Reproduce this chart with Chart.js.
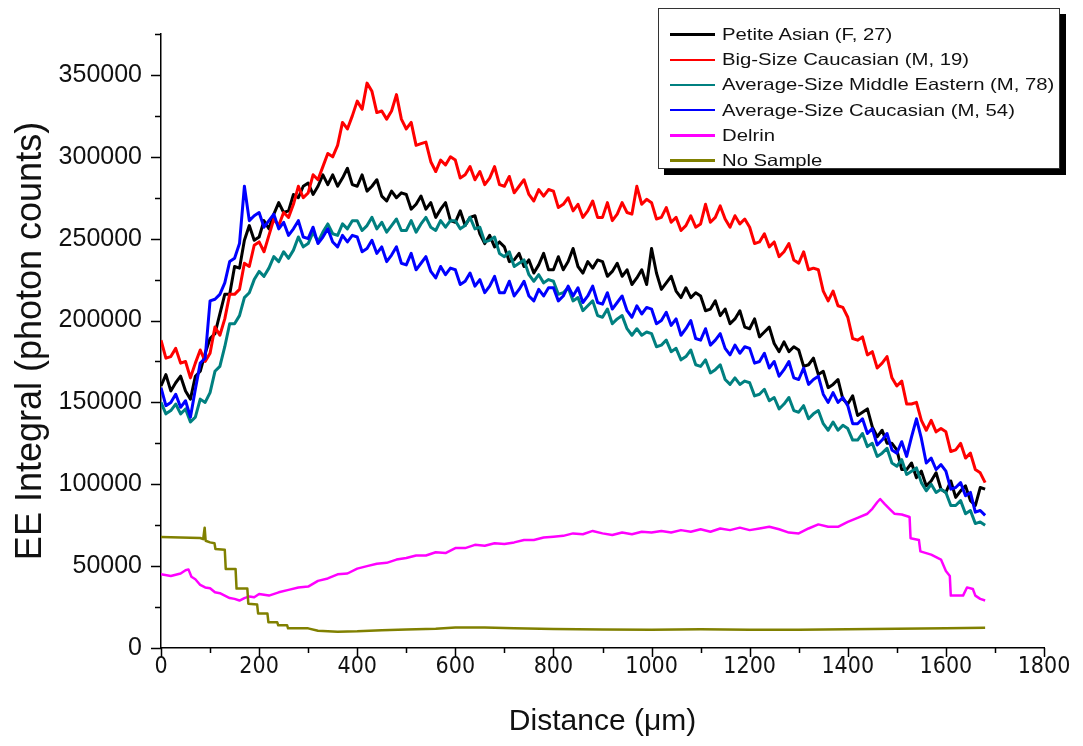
<!DOCTYPE html>
<html>
<head>
<meta charset="utf-8">
<title>EE integral vs distance</title>
<script src="https://cdn.jsdelivr.net/npm/chart.js@4.4.1/dist/chart.umd.min.js"></script>
<style>
  html, body { margin: 0; padding: 0; background: #fff; }
  #wrap { position: relative; width: 1083px; height: 746px; }
  #legend {
    position: absolute; left: 658px; top: 8px; width: 402px; height: 161px;
    border: 1px solid #333; background: #fff; box-shadow: 6px 6px 0 #000;
    padding-top: 13px; box-sizing: border-box;
    font-family: 'Liberation Sans', Arial, sans-serif; font-size: 16.5px; color: #111;
  }
  .row { display: flex; align-items: center; height: 25.2px; white-space: nowrap; }
  .swatch { margin-left: 11px; width: 45px; height: 2.5px; flex: none; }
  .label { margin-left: 7px; display: inline-block; transform: scaleX(1.23); transform-origin: left center; }
</style>
</head>
<body>
<div id="wrap">
  <canvas id="chart" width="1083" height="746"></canvas>
  <div id="legend"></div>
</div>
<script>
// EE integral (thousands of photon counts) sampled every 10 um, 0..1680 um
const SAMPLE_STEP_UM = 10;

const petiteAsianK = [
  160,167,157,162,166,157,152,166,169,180,
  189,192,204,216,216,233,232,249,258,249,
  251,261,256,265,272,266,267,277,275,282,
  284,277,282,289,283,289,282,287,293,283,
  282,289,279,282,286,276,273,279,275,278,
  277,268,271,276,268,272,263,268,272,261,
  260,267,258,263,264,253,247,252,245,248,
  245,236,237,241,233,237,229,234,241,231,
  231,239,231,236,244,233,229,236,232,237,
  236,227,230,235,227,231,222,226,231,222,
  244,229,219,223,227,218,214,220,214,217,
  215,206,207,212,203,207,198,201,206,196,
  195,201,190,193,196,186,181,187,181,184,
  182,172,173,177,167,169,159,161,164,152,
  149,154,142,144,146,135,129,133,125,125,
  121,109,109,113,104,108,99,102,107,97,
  95,102,92,96,99,90,87,98,97
];

const bigCaucasianK = [
  188,177,178,183,174,175,165,174,182,175,
  180,196,191,201,216,216,219,235,233,246,
  248,242,252,262,258,266,263,271,282,275,
  278,289,286,294,302,300,307,321,317,325,
  334,329,345,340,327,328,323,328,338,323,
  317,321,307,308,309,297,291,298,295,300,
  298,287,289,294,286,291,283,287,294,283,
  282,288,278,282,286,277,273,280,276,280,
  279,269,271,275,267,271,263,267,273,263,
  263,272,261,265,272,266,265,282,271,274,
  272,262,263,269,260,263,255,258,264,257,
  259,271,260,263,270,262,257,264,259,262,
  257,247,248,253,245,248,239,242,247,237,
  235,242,231,232,231,218,212,218,209,208,
  202,189,188,190,179,181,171,174,178,165,
  160,163,149,149,150,139,133,139,132,134,
  132,120,121,125,116,119,109,107,101
];

const middleEasternK = [
  150,143,145,149,143,146,138,141,152,150,
  156,169,172,184,198,198,203,214,217,225,
  230,227,232,239,236,242,238,243,251,245,
  247,254,248,254,259,253,252,259,256,261,
  261,255,258,263,256,260,254,258,262,255,
  255,261,254,259,263,257,255,261,257,261,
  261,256,258,263,256,257,248,249,251,241,
  239,242,233,235,237,228,224,228,223,225,
  224,216,217,220,212,214,206,209,212,203,
  202,207,198,201,203,195,191,195,191,193,
  192,184,185,188,181,183,176,178,182,173,
  172,176,168,170,173,164,161,165,161,163,
  162,154,155,158,151,153,146,149,153,145,
  144,148,140,143,145,137,133,138,133,136,
  134,127,127,131,123,125,117,119,122,113,
  111,115,106,108,110,101,96,100,95,97,
  95,87,87,90,82,84,76,77,75
];

const avgCaucasianK = [
  159,148,150,155,147,151,141,158,174,177,
  212,213,216,223,236,238,247,282,261,264,
  266,257,261,265,256,260,252,256,261,251,
  250,257,247,251,256,248,245,252,248,252,
  251,242,244,249,241,245,236,240,245,235,
  234,241,231,235,239,230,226,233,228,232,
  231,222,224,229,221,225,217,221,227,217,
  217,224,215,219,224,215,212,219,215,220,
  220,212,215,221,215,220,211,215,221,211,
  210,217,207,211,215,206,202,209,204,208,
  207,198,200,205,197,201,191,195,200,189,
  188,195,185,188,192,183,179,185,180,184,
  183,174,175,180,171,175,166,170,175,165,
  164,171,161,164,166,155,150,156,150,153,
  148,137,137,140,131,134,124,127,131,121,
  119,126,117,129,140,128,113,116,109,112,
  108,97,98,101,93,95,83,84,81
];

// Delrin and the empty holder were logged with their own distance points
const delrinX = [
  0,20,40,50,56,62,70,80,90,100,
  110,120,130,140,150,160,170,180,190,200,
  220,240,260,280,300,320,340,360,380,400,
  420,440,460,480,500,520,540,560,580,600,
  620,640,660,680,700,720,740,760,780,800,
  820,840,860,880,900,920,940,960,980,1000,
  1020,1040,1060,1080,1100,1120,1140,1160,1180,1200,
  1220,1240,1260,1280,1300,1320,1340,1360,1380,1400,
  1420,1440,1450,1460,1466,1475,1485,1495,1510,1526,
  1528,1545,1548,1570,1590,1600,1608,1610,1635,1643,
  1655,1660,1670,1680
];
const delrinK = [
  45,44,45.5,47.5,48,43.5,42,38.5,37,36.5,
  34,33.5,32,30.5,30,29,30.5,31.5,31,33,
  32,34,35.5,37,37.5,41,42.5,45,45.5,48.5,
  50,51.5,52,54,55,56.5,56.5,58.5,58,61,
  61,63,62.5,64,63.5,64.5,66,66,67.5,68,
  68.5,70,69.5,71.5,70,69,70.5,69.5,71,70.5,
  71.5,70.5,72,71,72.5,71,73,72,73.5,72,
  73,74,72.5,70.5,70,73,75.5,74,74,77,
  79.5,82,85,89,91,88,85,82,81.5,80,
  67,66,59,57,54,47,44,32,32,37,
  36,32,30,29
];

const noSampleX = [
  0,40,80,86,89,91,100,109,111,130,
  132,152,154,176,178,196,198,217,219,237,
  239,257,259,300,320,360,400,450,500,560,
  600,660,720,800,900,1000,1100,1200,1300,1400,
  1500,1600,1680
];
const noSampleK = [
  67.8,67.5,67.2,66.5,73.5,65.5,64.5,64,60.5,60,
  48.3,48.3,36.3,36.3,27,26.5,21,21,15.7,15.7,
  13.9,13.9,12,12,10.5,10,10.2,10.8,11.3,11.8,
  12.5,12.5,12,11.6,11.3,11.2,11.4,11.2,11.2,11.5,
  11.8,12,12.4
];

const seriesNames = [
  'Petite Asian (F, 27)',
  'Big-Size Caucasian (M, 19)',
  'Average-Size Middle Eastern (M, 78)',
  'Average-Size Caucasian (M, 54)',
  'Delrin',
  'No Sample'
];
const seriesColors = ['#000000', '#ff0000', '#008080', '#0000ff', '#ff00ff', '#808000'];

const xMajorTicks = [0, 200, 400, 600, 800, 1000, 1200, 1400, 1600, 1800];
const xMinorTicks = [100, 300, 500, 700, 900, 1100, 1300, 1500, 1700];
const yMajorTicks = [0, 50000, 100000, 150000, 200000, 250000, 300000, 350000];
const yMinorTicks = [25000, 75000, 125000, 175000, 225000, 275000, 325000, 375000];

function toPoints(xs, valuesK) {
  return valuesK.map((v, i) => ({ x: xs[i], y: v * 1000 }));
}
const distanceUm = petiteAsianK.map((_, i) => i * SAMPLE_STEP_UM);

const seriesPoints = [
  toPoints(distanceUm, petiteAsianK),
  toPoints(distanceUm, bigCaucasianK),
  toPoints(distanceUm, middleEasternK),
  toPoints(distanceUm, avgCaucasianK),
  toPoints(delrinX, delrinK),
  toPoints(noSampleX, noSampleK)
];

// later series sit on top, like the original plot
const datasets = seriesPoints.map((pts, i) => ({
  label: seriesNames[i],
  data: pts,
  borderColor: seriesColors[i],
  borderWidth: i < 4 ? 3 : 2.5,
  borderJoinStyle: 'round',
  pointRadius: 0,
  tension: 0,
  fill: false,
  order: seriesNames.length - i
}));

// outward major/minor ticks on both axes
const axisTicks = {
  id: 'axisTicks',
  afterDraw(chart) {
    const { ctx, scales: { x, y } } = chart;
    ctx.save();
    ctx.strokeStyle = '#000';
    ctx.lineWidth = 1.5;
    ctx.beginPath();
    const xTick = (v, len) => {
      const px = Math.round(x.getPixelForValue(v)) + 0.5;
      ctx.moveTo(px, y.bottom);
      ctx.lineTo(px, y.bottom + len);
    };
    const yTick = (v, len) => {
      const py = Math.round(y.getPixelForValue(v)) + 0.5;
      ctx.moveTo(x.left, py);
      ctx.lineTo(x.left - len, py);
    };
    xMajorTicks.forEach(v => xTick(v, 9));
    xMinorTicks.forEach(v => xTick(v, 5));
    yMajorTicks.forEach(v => yTick(v, 10));
    yMinorTicks.forEach(v => yTick(v, 6));
    ctx.stroke();
    ctx.restore();
  }
};

const textColor = '#111';

new Chart(document.getElementById('chart').getContext('2d'), {
  type: 'line',
  data: { datasets },
  plugins: [axisTicks],
  options: {
    responsive: false,
    animation: false,
    events: [],
    layout: { padding: { top: 29, right: 39, left: 0, bottom: 0 } },
    plugins: {
      legend: { display: false },
      tooltip: { enabled: false }
    },
    scales: {
      x: {
        type: 'linear',
        min: 0,
        max: 1800,
        afterBuildTicks: s => { s.ticks = xMajorTicks.map(v => ({ value: v })); },
        afterFit: s => { s.height = 98; },
        grid: { display: false, drawTicks: false },
        border: { display: true, color: '#000', width: 1.5 },
        ticks: {
          padding: 5,
          maxRotation: 0,
          autoSkip: false,
          color: textColor,
          font: { family: "'Liberation Sans Narrow', 'DejaVu Sans Condensed', sans-serif", size: 23 },
          callback: v => String(v)
        },
        title: {
          display: true,
          text: 'Distance (\u03bcm)',
          color: textColor,
          font: { family: "'Liberation Sans', Arial, sans-serif", size: 30 },
          padding: { top: 0, bottom: 6 }
        }
      },
      y: {
        type: 'linear',
        min: 0,
        max: 375000,
        afterBuildTicks: s => { s.ticks = yMajorTicks.map(v => ({ value: v })); },
        afterFit: s => { s.width = 161; },
        grid: { display: false, drawTicks: false },
        border: { display: true, color: '#000', width: 1.5 },
        ticks: {
          padding: 19,
          color: textColor,
          font: { family: "'Liberation Sans', Arial, sans-serif", size: 25 },
          callback: v => String(v)
        },
        title: {
          display: true,
          text: 'EE Integral (photon counts)',
          color: textColor,
          font: { family: "'Liberation Sans', Arial, sans-serif", size: 36 },
          padding: { top: 9, bottom: 0 }
        }
      }
    }
  }
});

// legend box drawn over the top-right of the plot
const legendEl = document.getElementById('legend');
seriesNames.forEach((name, i) => {
  const row = document.createElement('div');
  row.className = 'row';
  const sw = document.createElement('span');
  sw.className = 'swatch';
  sw.style.background = seriesColors[i];
  const lab = document.createElement('span');
  lab.className = 'label';
  lab.textContent = name;
  row.appendChild(sw);
  row.appendChild(lab);
  legendEl.appendChild(row);
});
</script>
</body>
</html>
